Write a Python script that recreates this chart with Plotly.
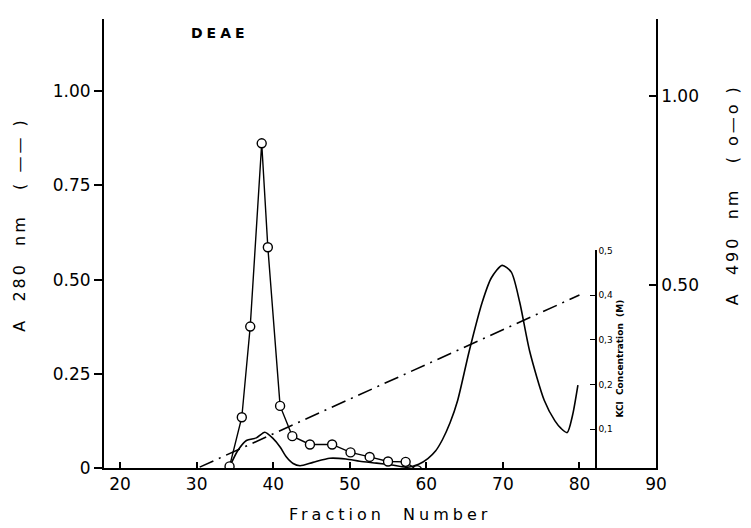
import plotly.graph_objects as go

# ---- data ----
frac_a490 = [34.3, 35.9, 37.0, 38.5, 39.3, 40.9, 42.5, 44.8, 47.7, 50.1, 52.6, 55.0, 57.3, 58.8]
a490 = [0.02, 0.15, 0.39, 0.875, 0.60, 0.18, 0.10, 0.078, 0.078, 0.057, 0.045, 0.033, 0.032, 0.01]

frac_a280 = [34.3, 35.4, 36.5, 37.8, 38.9, 40.0, 40.9, 41.7, 42.6, 43.5, 45.2, 47.4, 49.5, 51.3,
             53.5, 55.5, 57.5, 59.0, 60.2, 61.2, 62.1, 63.1, 64.1, 65.6, 67.3, 68.5, 69.9, 71.1,
             72.2, 73.5, 75.4, 76.8, 77.6, 78.4, 79.1, 79.8]
a280 = [0.003, 0.047, 0.073, 0.080, 0.095, 0.078, 0.056, 0.030, 0.012, 0.006, 0.015, 0.026, 0.024, 0.018,
        0.013, 0.008, 0.002, 0.010, 0.025, 0.045, 0.075, 0.120, 0.180, 0.310, 0.440, 0.505, 0.538, 0.520,
        0.440, 0.310, 0.180, 0.125, 0.105, 0.094, 0.140, 0.220]

frac_kcl = [30.4, 80.0]
kcl = [0.015, 0.40]

x_ticks = [20, 30, 40, 50, 60, 70, 80, 90]
y_ticks = [0, 0.25, 0.5, 0.75, 1.0]
y_ticktext = ["0", "0.25", "0.50", "0.75", "1.00"]
y2_ticks = [0.5, 1.0]
y2_ticktext = ["0.50", "1.00"]
kcl_ticks = [0.1, 0.2, 0.3, 0.4, 0.5]
kcl_ticktext = ["0,1", "0,2", "0,3", "0,4", "0,5"]

FONT = "DejaVu Sans"

fig = go.Figure()
fig.add_trace(go.Scatter(x=frac_kcl, y=kcl, mode="lines", xaxis="x", yaxis="y3",
                         line=dict(color="black", width=1.6, dash="15px,6px,2px,6px")))
fig.add_trace(go.Scatter(x=frac_a280, y=a280, mode="lines", xaxis="x", yaxis="y",
                         line=dict(color="black", width=1.6, shape="spline", smoothing=0.7)))
fig.add_trace(go.Scatter(x=frac_a490, y=a490, mode="lines+markers", xaxis="x", yaxis="y2",
                         line=dict(color="black", width=1.4),
                         marker=dict(size=9, color="white", line=dict(color="black", width=1.4))))

# the page body has an 8px margin, so the figure is 8px smaller than the window
fig.update_layout(
    width=743, height=520,
    margin=dict(l=96, r=95, t=6, b=60),
    paper_bgcolor="white", plot_bgcolor="rgba(0,0,0,0)",
    showlegend=False,
    font=dict(family=FONT, color="black"),
    xaxis=dict(range=[17.9, 90], tickvals=x_ticks, ticks="inside", ticklen=6, tickwidth=1.5,
               tickcolor="black", showline=True, linecolor="black", linewidth=2,
               showgrid=False, zeroline=False, tickfont=dict(size=17, family=FONT)),
    yaxis=dict(range=[0, 1.192], tickvals=y_ticks, ticktext=y_ticktext, ticks="outside",
               ticklen=8, tickwidth=1.5, tickcolor="black", showline=True, linecolor="black",
               linewidth=2, showgrid=False, zeroline=False, tickfont=dict(size=17, family=FONT)),
    yaxis2=dict(overlaying="y", side="right", range=[0.0157, 1.204], tickvals=y2_ticks,
                ticktext=y2_ticktext, ticks="inside", ticklen=7, tickwidth=1.5, tickcolor="black",
                showline=True, linecolor="black", linewidth=1.5, showgrid=False, zeroline=False,
                tickfont=dict(size=17, family=FONT)),
    yaxis3=dict(domain=[0, 0.4846], anchor="free", position=0.891, side="right",
                range=[0.013, 0.5], tickvals=kcl_ticks, ticktext=kcl_ticktext, ticks="inside",
                ticklen=5, tickwidth=1.2, tickcolor="black", showline=True, linecolor="black",
                linewidth=1.5, showgrid=False, zeroline=False, tickfont=dict(size=9, family=FONT)),
    annotations=[
        dict(text='<span style="letter-spacing:4px">DEAE</span>', x=0.21, y=0.968,
             xref="paper", yref="paper", showarrow=False, xanchor="center", yanchor="middle",
             font=dict(size=14, family=FONT, weight="bold")),
        dict(text='<span style="letter-spacing:3px">A  280  nm   ( —— )</span>', x=-0.152, y=0.542,
             xref="paper", yref="paper", showarrow=False, textangle=-90,
             xanchor="center", yanchor="middle", font=dict(size=16, family=FONT)),
        dict(text='<span style="letter-spacing:3px">A  490  nm   ( o—o )</span>', x=1.138, y=0.608,
             xref="paper", yref="paper", showarrow=False, textangle=-90,
             xanchor="center", yanchor="middle", font=dict(size=16, family=FONT)),
        dict(text="KCl  Concentration  (M)", x=0.935, y=0.244,
             xref="paper", yref="paper", showarrow=False, textangle=-90,
             xanchor="center", yanchor="middle", font=dict(size=9, family=FONT, weight="bold")),
        dict(text='<span style="letter-spacing:4px">Fraction  Number</span>', x=0.518, y=-0.1035,
             xref="paper", yref="paper", showarrow=False, xanchor="center", yanchor="middle",
             font=dict(size=16, family=FONT)),
    ],
)

fig.write_html("out.html")
